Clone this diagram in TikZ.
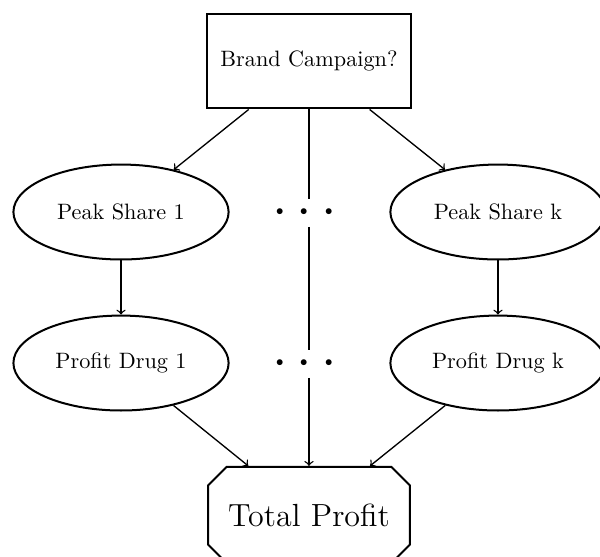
\documentclass[tikz,border=0pt]{standalone}
\usepackage{amsmath}
\usepackage{tikz}
\usetikzlibrary{shapes.geometric,shapes.misc,arrows,positioning}

\tikzset{
	decision/.style={draw,line width=0.9pt,rectangle,minimum width=3.21cm,minimum height=1.5cm},
	chance/.style={draw,line width=0.9pt,ellipse,minimum width=3.4cm,minimum height=1.5cm},
	value/.style={draw,line width=0.9pt,chamfered rectangle,chamfered rectangle xsep=0.15cm,chamfered rectangle ysep=0.14cm,inner xsep=4.7pt,minimum height=1.52cm,font=\Large},
	gap/.style={inner sep=0.5pt,font=\fontsize{27pt}{30pt}\selectfont},
	link/.style={->,semithick}
}

\begin{document}
\begin{tikzpicture}[transform shape,scale=1]
	\useasboundingbox (0,0) rectangle (9.48,8.785);
	\node[decision] (campaign) at (4.882,7.821) {Brand Campaign?};
	\node[chance] (peak1) at (1.912,5.435) {Peak Share 1};
	\node[chance] (peakk) at (7.868,5.435) {Peak Share k};
	\node[chance] (profit1) at (1.912,3.049) {Profit Drug 1};
	\node[chance] (profitk) at (7.868,3.049) {Profit Drug k};
	\node[gap] (dotsA) at (4.882,5.419) {$\cdots$};
	\node[gap] (dotsB) at (4.882,3.034) {$\cdots$};
	\node[value] (total) at (4.882,0.648) {Total Profit};
	\draw[link] (campaign) -- (peak1);
	\draw[link] (campaign) -- (peakk);
	\draw[semithick] (campaign.south) -- (dotsA);
	\draw[semithick] (dotsA) -- (dotsB);
	\draw[link] (dotsB) -- (total.north);
	\draw[link] (peak1) -- (profit1);
	\draw[link] (peakk) -- (profitk);
	\draw[link] (profit1) -- (total);
	\draw[link] (profitk) -- (total);
\end{tikzpicture}
\end{document}
